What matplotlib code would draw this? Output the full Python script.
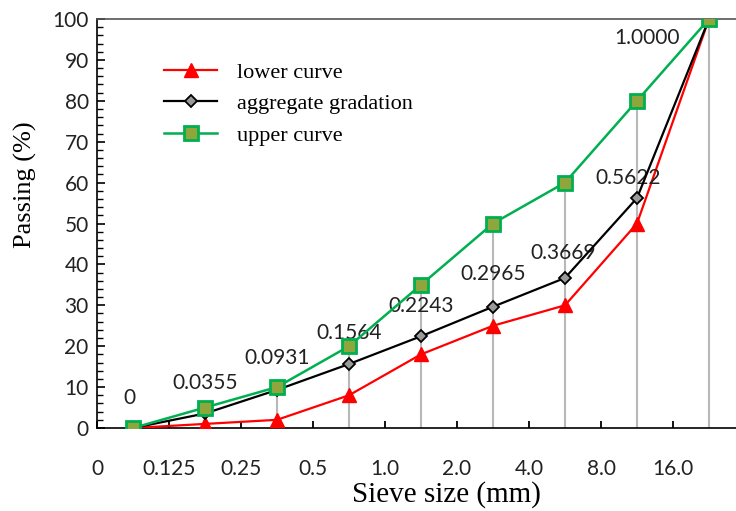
import numpy as np
import matplotlib
matplotlib.use("Agg")
import matplotlib.pyplot as plt
from matplotlib.ticker import MultipleLocator

# sieve categories (tick labels) and passing values (%)
tick_labels = ["0", "0.125", "0.25", "0.5", "1.0", "2.0", "4.0", "8.0", "16.0"]
lower = [0, 1, 2, 8, 18, 25, 30, 50, 100]
aggregate = [0, 3.55, 9.31, 15.64, 22.43, 29.65, 36.69, 56.22, 100]
upper = [0, 5, 10, 20, 35, 50, 60, 80, 100]
point_labels = ["0", "0.0355", "0.0931", "0.1564", "0.2243", "0.2965", "0.3669", "0.5622", "1.0000"]

serif = "Liberation Serif"
sans = "Lato"

fig = plt.figure(figsize=(7.36, 5.11), dpi=100)
ax = fig.add_axes([97 / 736, 1 - 428 / 511, 1 - 97 / 736, (428 - 19) / 511])

xs = np.arange(len(lower)) + 0.5

# drop lines from each point to the axis
ax.vlines(xs, 0, upper, color="#b8b8b8", lw=1.5, zorder=1)

ax.plot(xs, lower, color="#ff0000", lw=1.6, marker="^", ms=10,
        mfc="#ff0000", mec="#ff0000", label="lower curve", zorder=3)
ax.plot(xs, aggregate, color="black", lw=1.6, marker="D", ms=6,
        mfc="#9a9a9a", mec="black", mew=1.3, label="aggregate gradation", zorder=4)
ax.plot(xs, upper, color="#00b050", lw=1.8, marker="s", ms=10,
        mfc="#8fa63c", mec="#00b050", mew=2, label="upper curve", zorder=5)

# value annotations above the gradation points
offsets = [(-4, 30), (0, 30), (0, 32), (0, 31), (0, 30), (0, 33), (-2, 25), (-9, 20), (-62, -19)]
for x, y, t, off in zip(xs, aggregate, point_labels, offsets):
    ax.annotate(t, (x, y), xytext=off, textcoords="offset pixels",
                ha="center", va="center", fontsize=15, family=sans, color="#222222")

ax.set_xlim(0, (736 - 97) / 72)
ax.set_ylim(0, 100)
ax.set_xticks(np.arange(len(tick_labels)))
ax.set_xticklabels(tick_labels)
ax.yaxis.set_major_locator(MultipleLocator(10))
ax.yaxis.set_minor_locator(MultipleLocator(2))
ax.tick_params(axis="x", direction="in", length=5, width=1.3, pad=22, labelsize=15)
ax.tick_params(axis="y", which="major", direction="in", length=6, width=1.2, pad=6, labelsize=15)
ax.tick_params(axis="y", which="minor", direction="in", length=4, width=1.0)
for lab in ax.get_xticklabels() + ax.get_yticklabels():
    lab.set_family(sans)
    lab.set_color("#222222")

for s in ["left", "bottom", "top"]:
    ax.spines[s].set_linewidth(1.2)
ax.spines["top"].set_color("#555555")
ax.spines["right"].set_visible(False)

ax.set_xlabel("Sieve size (mm)", family=serif, fontsize=21)
ax.set_ylabel("Passing (%)", family=serif, fontsize=19)
ax.xaxis.set_label_coords((446 - 97) / 639, -(495 - 428) / 409)
ax.yaxis.set_label_coords(-(97 - 25) / 639, (428 - 185) / 409)
ax.xaxis.label.set_va("center")
ax.yaxis.label.set_va("center")

leg = ax.legend(loc="upper left", bbox_to_anchor=(144 / 736, 1 - 42 / 511),
                bbox_transform=fig.transFigure, frameon=False,
                prop={"family": serif, "size": 16}, handlelength=2.4,
                handletextpad=0.9, labelspacing=0.5)

fig.savefig("out.png", dpi=100)
